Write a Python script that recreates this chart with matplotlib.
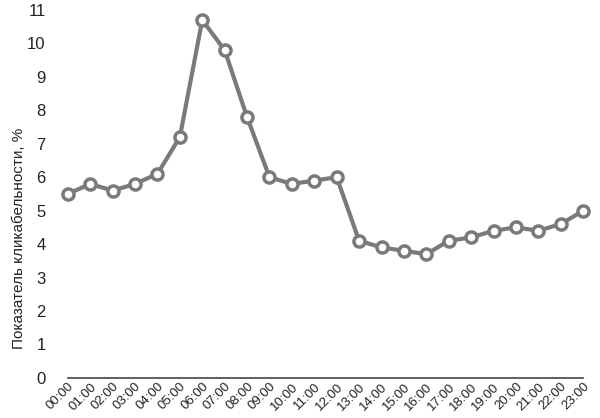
import matplotlib.pyplot as plt

hours = [f"{h:02d}:00" for h in range(24)]
ctr = [5.5, 5.8, 5.6, 5.8, 6.1, 7.2, 10.7, 9.8, 7.8, 6.0, 5.8, 5.9,
       6.0, 4.1, 3.9, 3.8, 3.7, 4.1, 4.2, 4.4, 4.5, 4.4, 4.6, 5.0]
y_ticks = list(range(0, 12))

plt.rcParams['font.family'] = ['Liberation Sans', 'DejaVu Sans']

fig = plt.figure(figsize=(6, 4.18), dpi=100)
ax = fig.add_axes([0.113, 0.096, 0.859, 0.88])

x = list(range(len(hours)))
ax.plot(x, ctr, color='#7a7a7a', lw=3, marker='o', markersize=8,
        markerfacecolor='white', markeredgecolor='#7a7a7a', markeredgewidth=2.5,
        zorder=3, clip_on=False)

ax.set_xlim(0, 23)
ax.set_ylim(0, 11)
ax.set_yticks(y_ticks)
ax.set_yticklabels([str(v) for v in y_ticks], fontsize=12, color='#222222')
ax.set_xticks(x)
ax.set_xticklabels(hours, rotation=45, ha='right', rotation_mode='anchor',
                   fontsize=9.5, color='#222222')

for s in ['top', 'right', 'left']:
    ax.spines[s].set_visible(False)
ax.spines['bottom'].set_color('#444444')
ax.spines['bottom'].set_linewidth(1.2)
ax.spines['bottom'].set_zorder(1)
ax.tick_params(axis='both', length=0)
ax.tick_params(axis='y', pad=16)
ax.tick_params(axis='x', pad=2)

ax.set_ylabel('Показатель кликабельности, %', fontsize=11, color='#222222')
ax.yaxis.set_label_coords(-0.082, 0.38)

fig.savefig('out.png', dpi=100)
